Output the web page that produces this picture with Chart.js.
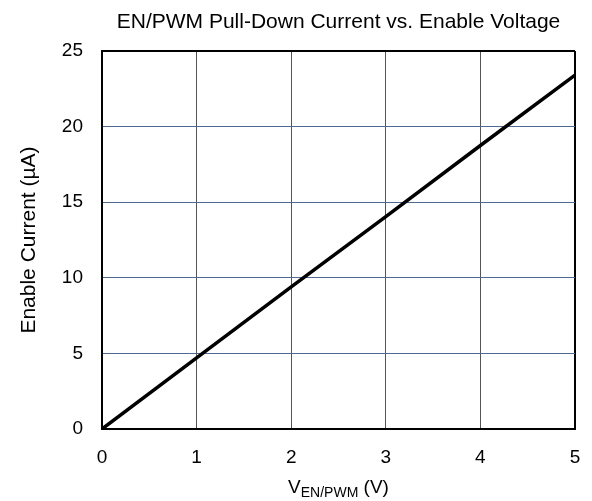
<!DOCTYPE html>
<html>
<head>
<meta charset="utf-8">
<script src="https://cdn.jsdelivr.net/npm/chart.js@4"></script>
<style>
  html, body { margin: 0; padding: 0; background: #fff; }
  #wrap { width: 592px; height: 501px; }
</style>
</head>
<body>
<div id="wrap"><canvas id="chart" width="592" height="501"></canvas></div>
<script>
// data
const voltage = [0, 1, 2, 3, 4, 5];
const current = [0, 4.7, 9.4, 14.05, 18.75, 23.4];
const xTicks = [0, 1, 2, 3, 4, 5];
const yTicks = [0, 5, 10, 15, 20, 25];

const chartTitle = "EN/PWM Pull-Down Current vs. Enable Voltage";
const yTitle = "Enable Current (\u00b5A)";
const xTitleMain = "V";
const xTitleSub = "EN/PWM";
const xTitleTail = " (V)";

const FONT = "'Liberation Sans', Arial, sans-serif";

// title over plot + x axis title with subscript
const textPlugin = {
  id: "textPlugin",
  afterDraw(chart) {
    const ctx = chart.ctx;
    const a = chart.chartArea;
    const cx = (a.left + a.right) / 2;
    ctx.save();
    ctx.fillStyle = "#000";
    ctx.textBaseline = "alphabetic";
    ctx.textAlign = "center";
    ctx.font = "21px " + FONT;
    ctx.fillText(chartTitle, cx, 28);

    // x title: V with EN/PWM subscript
    ctx.textAlign = "left";
    ctx.font = "19px " + FONT;
    const w1 = ctx.measureText(xTitleMain).width;
    const w3 = ctx.measureText(xTitleTail).width;
    ctx.font = "14px " + FONT;
    const w2 = ctx.measureText(xTitleSub).width;
    let x = cx - (w1 + w2 + w3) / 2;
    const base = 493;
    ctx.font = "19px " + FONT;
    ctx.fillText(xTitleMain, x, base);
    x += w1;
    ctx.font = "14px " + FONT;
    ctx.fillText(xTitleSub, x, base + 4);
    x += w2;
    ctx.font = "19px " + FONT;
    ctx.fillText(xTitleTail, x, base);
    ctx.restore();
  }
};

new Chart(document.getElementById("chart"), {
  type: "line",
  data: {
    datasets: [{
      data: voltage.map((v, i) => ({ x: v, y: current[i] })),
      borderColor: "#000",
      borderWidth: 3.5,
      pointRadius: 0,
      tension: 0,
      fill: false
    }]
  },
  options: {
    responsive: false,
    animation: false,
    layout: { padding: { top: 51, right: 17, left: 0, bottom: 0 } },
    plugins: { legend: { display: false }, tooltip: { enabled: false }, title: { display: false } },
    scales: {
      x: {
        type: "linear",
        min: 0, max: 5,
        afterBuildTicks: s => { s.ticks = xTicks.map(v => ({ value: v })); },
        afterFit: s => { s.height = 72; s.paddingLeft = 0; s.paddingRight = 0; },
        border: { color: "#000", width: 2 },
        grid: {
          drawTicks: false,
          color: c => c.tick && c.tick.value === 5 ? "#000" : "#555",
          lineWidth: c => c.tick && c.tick.value === 5 ? 2 : 1
        },
        ticks: { padding: 17, color: "#000", font: { family: FONT, size: 19 }, maxRotation: 0 }
      },
      y: {
        min: 0, max: 25,
        afterBuildTicks: s => { s.ticks = yTicks.map(v => ({ value: v })); },
        afterFit: s => { s.width = 102; s.paddingTop = 0; s.paddingBottom = 0; },
        border: { color: "#000", width: 2 },
        grid: {
          drawTicks: false,
          color: c => c.tick && c.tick.value === 25 ? "#000" : "#4f6a8f",
          lineWidth: c => c.tick && c.tick.value === 25 ? 2 : 1
        },
        ticks: { padding: 19, color: "#000", font: { family: FONT, size: 19 } },
        title: {
          display: true,
          text: yTitle,
          color: "#000",
          font: { family: FONT, size: 21 },
          padding: { top: 17, bottom: 0 }
        }
      }
    }
  },
  plugins: [textPlugin]
});
</script>
</body>
</html>
